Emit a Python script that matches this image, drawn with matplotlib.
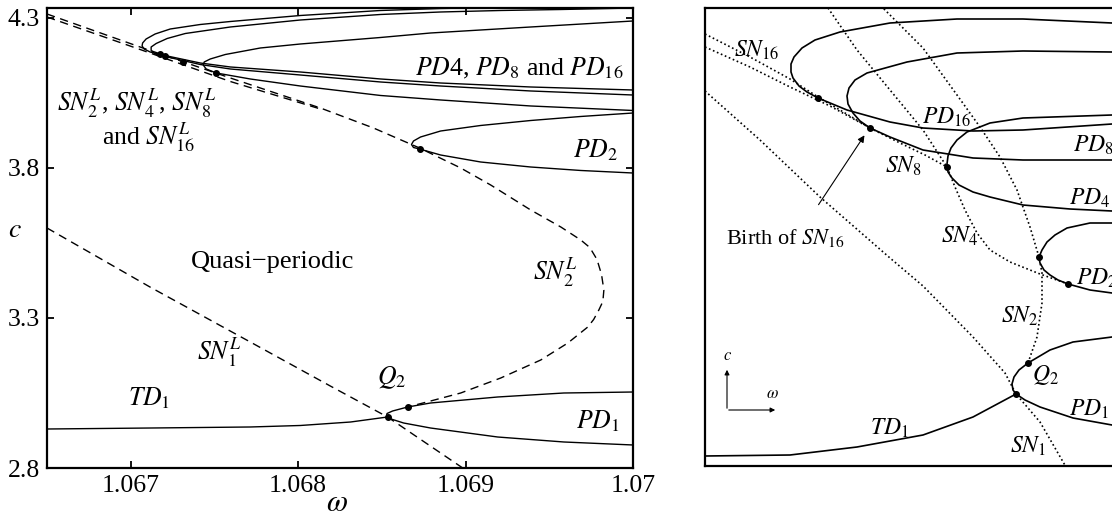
import matplotlib
matplotlib.use("Agg")
import matplotlib.pyplot as plt

plt.rcParams['font.family'] = ['Liberation Serif', 'DejaVu Serif']
plt.rcParams['mathtext.fontset'] = 'stix'

# ---------------- left panel data (omega, c) ----------------
sn1L_w = [1.06650, 1.067116, 1.067714, 1.068193, 1.068534, 1.068983]
sn1L_c = [3.600, 3.403, 3.220, 3.073, 2.970, 2.800]

td1_w = [1.0665, 1.067116, 1.067714, 1.068013, 1.068313, 1.068534]
td1_c = [2.930, 2.9333, 2.9367, 2.9417, 2.9533, 2.970]

pd1_w = [1.0700, 1.069587, 1.069192, 1.068791, 1.068654, 1.068564, 1.068531,
         1.068528, 1.068534, 1.068564, 1.068630, 1.068791, 1.069192, 1.069587, 1.0700]
pd1_c = [3.0533, 3.050, 3.0367, 3.0167, 3.0033, 2.990, 2.9817,
         2.975, 2.9683, 2.9617, 2.950, 2.9333, 2.9033, 2.8867, 2.8767]

sn2L_w = [1.0665, 1.067056, 1.067595, 1.068133, 1.068450, 1.068725, 1.068971,
          1.069150, 1.069389, 1.069569, 1.069688, 1.069742, 1.069785, 1.069812,
          1.069826, 1.069820, 1.069796, 1.069765, 1.069730, 1.069611, 1.069449,
          1.069210, 1.068971, 1.068791, 1.068654]
sn2L_c = [4.3133, 4.2033, 4.100, 4.000, 3.9333, 3.8667, 3.800,
          3.7433, 3.660, 3.6033, 3.560, 3.535, 3.495, 3.445,
          3.3933, 3.355, 3.3267, 3.295, 3.270, 3.2167, 3.160,
          3.100, 3.050, 3.0233, 3.0033]

snhiL_w = [1.0665, 1.067056, 1.067595, 1.068133]
snhiL_c = [4.3033, 4.195, 4.0883, 3.9967]

pd16_w = [1.0700, 1.069569, 1.069210, 1.068851, 1.068492, 1.068013, 1.067595,
          1.067415, 1.067236, 1.067146, 1.067092, 1.067071, 1.067068, 1.067080,
          1.067116, 1.067176, 1.067415, 1.067595, 1.068013, 1.068492, 1.068851,
          1.069389, 1.0700]
pd16_c = [4.340, 4.3367, 4.335, 4.3317, 4.325, 4.3083, 4.2883,
          4.2783, 4.2633, 4.2467, 4.230, 4.2167, 4.2067, 4.1967,
          4.1867, 4.1783, 4.150, 4.1367, 4.120, 4.0967, 4.0833,
          4.070, 4.060]

pd8_w = [1.0700, 1.069569, 1.069210, 1.068851, 1.068492, 1.068013, 1.067595,
         1.067326, 1.067218, 1.067152, 1.067122, 1.067122, 1.067146, 1.067206,
         1.067415, 1.067595, 1.068013, 1.068492, 1.068851, 1.069389, 1.0700]
pd8_c = [4.3333, 4.3283, 4.325, 4.320, 4.3117, 4.2933, 4.270,
         4.2483, 4.2317, 4.215, 4.2033, 4.1917, 4.180, 4.1717,
         4.145, 4.130, 4.110, 4.0867, 4.0733, 4.0567, 4.0433]

pd4_w = [1.0700, 1.069389, 1.068791, 1.068492, 1.068013, 1.067774, 1.067565,
         1.067475, 1.067439, 1.067433, 1.067451, 1.067511, 1.067714, 1.068013,
         1.068492, 1.068851, 1.069389, 1.0700]
pd4_c = [4.290, 4.270, 4.250, 4.235, 4.2133, 4.200, 4.1783,
         4.1633, 4.1533, 4.1433, 4.130, 4.1167, 4.0967, 4.0733,
         4.0417, 4.0267, 4.0067, 3.9917]

pd2_w = [1.0700, 1.069688, 1.069389, 1.069090, 1.068851, 1.068731, 1.068689,
         1.068677, 1.068689, 1.068725, 1.068851, 1.069090, 1.069389, 1.069688, 1.0700]
pd2_c = [3.9833, 3.9717, 3.9583, 3.9417, 3.9233, 3.9033, 3.890,
         3.8783, 3.8683, 3.8633, 3.8433, 3.820, 3.8033, 3.7917, 3.7833]

dots_w = [1.067176, 1.067206, 1.067314, 1.067511, 1.068725, 1.068534, 1.068654]
dots_c = [4.180, 4.1733, 4.1533, 4.1167, 3.8633, 2.970, 3.0033]

xticks = [1.067, 1.068, 1.069, 1.07]
xticklabels = ['1.067', '1.068', '1.069', '1.07']
yticks = [2.8, 3.3, 3.8, 4.3]
yticklabels = ['2.8', '3.3', '3.8', '4.3']

# ---------------- right panel (schematic units) ----------------
loopA_u = [407, 318, 252, 185, 135, 110, 97, 89, 86, 86, 88, 94, 102, 113, 142, 185, 218, 268, 318, 407]
loopA_v = [443, 447, 447, 443, 434, 426, 418, 409, 402, 394, 388, 380, 374, 368, 356, 344, 338, 335, 336, 342]
loopB_u = [407, 318, 252, 202, 162, 150, 144, 142, 143, 148, 155, 165, 185, 218, 268, 318, 407]
loopB_v = [414, 415, 413, 404, 393, 386, 378, 370, 362, 353, 345, 338, 329, 316, 308, 306, 306]
loopC_u = [407, 318, 285, 262, 252, 246, 243, 242, 243, 247, 254, 268, 285, 318, 365, 407]
loopC_v = [351, 348, 343, 334, 326, 318, 310, 302, 294, 288, 281, 274, 269, 261, 257, 255]
loopPD2_u = [407, 385, 362, 350, 342, 337, 334, 335, 339, 345, 353, 363, 385, 407]
loopPD2_v = [243, 243, 238, 231, 224, 216, 209, 203, 196, 191, 186, 182, 176, 173]
loopPD1_u = [407, 368, 345, 323, 314, 309, 307, 308, 311, 320, 335, 368, 407]
loopPD1_v = [129, 124, 116, 103, 96, 89, 82, 76, 72, 66, 59, 48, 41]
td1r_u = [0, 85, 152, 218, 268, 311]
td1r_v = [10, 11, 19, 31, 49, 72]
sn1r_u = [0, 55, 115, 185, 218, 268, 300, 311, 335, 361]
sn1r_v = [375, 326, 269, 208, 180, 129, 93, 72, 44, -1]
sn2r_u = [323, 332, 337, 337, 334, 325, 312, 295, 275, 252, 218, 178]
sn2r_v = [103, 129, 163, 193, 209, 239, 276, 309, 339, 371, 418, 458]
sn4r_u = [123, 152, 185, 218, 242, 250, 260, 272, 285, 305, 335, 363]
sn4r_v = [458, 416, 376, 336, 299, 279, 256, 233, 216, 204, 192, 182]
sn16a_u = [0, 45, 85, 113, 140, 165]
sn16a_v = [432, 409, 387, 369, 353, 338]
sn16b_u = [0, 45, 85, 125, 165]
sn16b_v = [419, 399, 379, 360, 338]
sn8r_u = [165, 195, 220, 242]
sn8r_v = [338, 323, 311, 299]
rdots_u = [113, 165, 242, 334, 363, 323, 311]
rdots_v = [368, 338, 299, 209, 182, 103, 72]

# ---------------- figure ----------------
W, H = 1112, 519
fig = plt.figure(figsize=(W / 100, H / 100), dpi=100)

ax = fig.add_axes([47 / W, 1 - 468 / H, 586 / W, 460 / H])
solid = dict(color='black', lw=1.0, solid_capstyle='round', solid_joinstyle='round')
dash = dict(color='black', lw=1.0, ls=(0, (6, 4)))
ax.plot(sn1L_w, sn1L_c, **dash)
ax.plot(sn2L_w, sn2L_c, **dash)
ax.plot(snhiL_w, snhiL_c, **dash)
ax.plot(td1_w, td1_c, **solid)
ax.plot(pd1_w, pd1_c, **solid)
ax.plot(pd16_w, pd16_c, **solid)
ax.plot(pd8_w, pd8_c, **solid)
ax.plot(pd4_w, pd4_c, **solid)
ax.plot(pd2_w, pd2_c, **solid)
ax.plot(dots_w, dots_c, 'o', color='black', ms=4)

ax.set_xlim(1.0665, 1.07)
ax.set_ylim(2.8, 4.3333)
ax.set_xticks(xticks)
ax.set_xticklabels(xticklabels)
ax.set_yticks(yticks)
ax.set_yticklabels(yticklabels)
ax.tick_params(direction='in', length=5, width=1.3, top=True, right=True,
               labelsize=18.5, pad=5)
for s in ax.spines.values():
    s.set_linewidth(1.6)

ax.text(0.495, -0.077, r'$\omega$', transform=ax.transAxes, fontsize=22,
        ha='center', va='center')
ax.text(-0.055, 0.517, r'$c$', transform=ax.transAxes, fontsize=20,
        ha='center', va='center')

tfs = 18.5
ax.text(1.069318, 4.1333, r'$PD$4, $PD_8$ and $PD_{16}$', fontsize=tfs, ha='center', va='center')
ax.text(1.069778, 3.86, r'$PD_2$', fontsize=tfs, ha='center', va='center')
ax.text(1.067038, 4.0167, r'$SN_2^L$, $SN_4^L$, $SN_8^L$', fontsize=tfs, ha='center', va='center')
ax.text(1.067104, 3.9033, r'and $SN_{16}^L$', fontsize=tfs, ha='center', va='center')
ax.text(1.067846, 3.4867, 'Quasi\u2212periodic', fontsize=19, ha='center', va='center')
ax.text(1.069539, 3.4533, r'$SN_2^L$', fontsize=tfs, ha='center', va='center')
ax.text(1.067529, 3.1867, r'$SN_1^L$', fontsize=tfs, ha='center', va='center')
ax.text(1.067110, 3.0333, r'$TD_1$', fontsize=tfs, ha='center', va='center')
ax.text(1.068558, 3.10, r'$Q_2$', fontsize=tfs, ha='center', va='center')
ax.text(1.069790, 2.9567, r'$PD_1$', fontsize=tfs, ha='center', va='center')

# right schematic panel
ax2 = fig.add_axes([705 / W, 1 - 466 / H, 425 / W, 458 / H])
ax2.set_xlim(0, 425)
ax2.set_ylim(0, 458)
ax2.set_xticks([])
ax2.set_yticks([])
for s in ax2.spines.values():
    s.set_linewidth(1.6)
rsolid = dict(color='black', lw=1.2, solid_joinstyle='round')
dot = dict(color='black', lw=1.2, ls=(0, (1, 1.6)))
for u, v in [(loopA_u, loopA_v), (loopB_u, loopB_v), (loopC_u, loopC_v),
             (loopPD2_u, loopPD2_v), (loopPD1_u, loopPD1_v), (td1r_u, td1r_v)]:
    ax2.plot(u, v, **rsolid)
for u, v in [(sn1r_u, sn1r_v), (sn2r_u, sn2r_v), (sn4r_u, sn4r_v),
             (sn16a_u, sn16a_v), (sn16b_u, sn16b_v), (sn8r_u, sn8r_v)]:
    ax2.plot(u, v, **dot)
ax2.plot(rdots_u, rdots_v, 'o', color='black', ms=4)

ax2.annotate('', xy=(161, 333), xytext=(112, 259),
             arrowprops=dict(arrowstyle='-|>', color='black', lw=0.8,
                             mutation_scale=10))
ax2.annotate('', xy=(22, 99), xytext=(22, 55),
             arrowprops=dict(arrowstyle='-|>', color='black', lw=0.8, mutation_scale=7))
ax2.annotate('', xy=(73, 56), xytext=(21, 56),
             arrowprops=dict(arrowstyle='-|>', color='black', lw=0.8, mutation_scale=7))
ax2.text(23, 110, r'$c$', fontsize=12, ha='center', va='center')
ax2.text(67, 72, r'$\omega$', fontsize=12, ha='center', va='center')

rfs = 17
ax2.text(52, 416, r'$SN_{16}$', fontsize=rfs, ha='center', va='center')
ax2.text(242, 349, r'$PD_{16}$', fontsize=rfs, ha='center', va='center')
ax2.text(388, 321, r'$PD_8$', fontsize=rfs, ha='center', va='center')
ax2.text(198, 300, r'$SN_8$', fontsize=rfs, ha='center', va='center')
ax2.text(385, 268, r'$PD_4$', fontsize=rfs, ha='center', va='center')
ax2.text(255, 230, r'$SN_4$', fontsize=rfs, ha='center', va='center')
ax2.text(80, 228, r'Birth of $SN_{16}$', fontsize=16, ha='center', va='center')
ax2.text(392, 188, r'$PD_2$', fontsize=rfs, ha='center', va='center')
ax2.text(315, 150, r'$SN_2$', fontsize=rfs, ha='center', va='center')
ax2.text(340, 91, r'$Q_2$', fontsize=rfs, ha='center', va='center')
ax2.text(384, 57, r'$PD_1$', fontsize=rfs, ha='center', va='center')
ax2.text(184, 38, r'$TD_1$', fontsize=rfs, ha='center', va='center')
ax2.text(323, 20, r'$SN_1$', fontsize=rfs, ha='center', va='center')

fig.savefig('out.png', dpi=100)
